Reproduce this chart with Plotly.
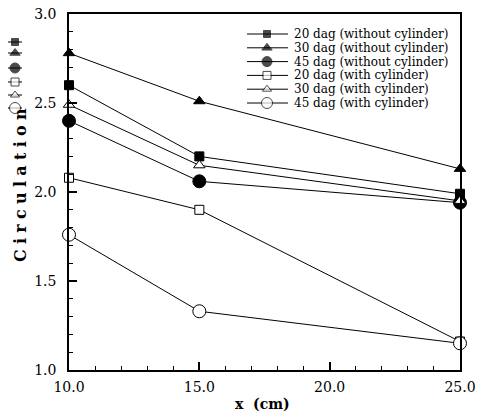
import plotly.graph_objects as go

# ---- data ----
x_cm = [10, 15, 25]
s20_without = [2.60, 2.20, 1.99]
s30_without = [2.78, 2.51, 2.13]
s45_without = [2.40, 2.06, 1.94]
s20_with = [2.08, 1.90, 1.16]
s30_with = [2.49, 2.15, 1.95]
s45_with = [1.76, 1.33, 1.15]
names = ["20 dag (without cylinder)", "30 dag (without cylinder)", "45 dag (without cylinder)",
         "20 dag (with cylinder)", "30 dag (with cylinder)", "45 dag (with cylinder)"]
series = [s20_without, s30_without, s45_without, s20_with, s30_with, s45_with]
symbols = ["square", "triangle-up", "circle", "square", "triangle-up", "circle"]
fills = ["black", "black", "black", "white", "white", "white"]
sizes = [9, 10, 13, 9, 10, 13]
legend_sizes = [7, 9, 10, 8, 8, 11]

W, H = 478, 417
L, R, T, B = 69, 460, 14, 370  # plot area in pixels
FONT = "DejaVu Serif"

fig = go.Figure()
for name, ys, sym, fc, sz in zip(names, series, symbols, fills, sizes):
    fig.add_trace(go.Scatter(
        x=x_cm, y=ys, mode="lines+markers", name=name, showlegend=False,
        line=dict(color="black", width=1),
        marker=dict(symbol=sym, size=sz, color=fc, line=dict(color="black", width=1)),
        cliponaxis=False, xaxis="x", yaxis="y"))

# ---- overlay pixel axes for legend and y-title keys ----
leg_x0, leg_x1, leg_mx, leg_tx = 247, 288, 267, 292
row0, row_gap = 34, 13.8
key_x0, key_x1, key_mx = 8, 22, 15
key_rows = [42, 53, 68, 82, 95, 108]
for i, (name, sym, fc, lsz) in enumerate(zip(names, symbols, fills, legend_sizes)):
    yy = row0 + i * row_gap
    fig.add_trace(go.Scatter(
        x=[leg_x0, leg_mx, leg_x1], y=[yy, yy, yy], mode="lines+markers", showlegend=False,
        line=dict(color="black", width=1),
        marker=dict(symbol=sym, size=[0, lsz, 0], color=fc, line=dict(color="black", width=1)),
        xaxis="x2", yaxis="y2", hoverinfo="skip", cliponaxis=False))
    fig.add_annotation(x=leg_tx, y=yy, xref="x2", yref="y2", text=name, showarrow=False,
                       xanchor="left", yanchor="middle",
                       font=dict(family=FONT, size=12, color="black"))
    ky = key_rows[i]
    fig.add_trace(go.Scatter(
        x=[key_x0, key_mx, key_x1], y=[ky, ky, ky], mode="lines+markers", showlegend=False,
        line=dict(color="black", width=1),
        marker=dict(symbol=sym, size=[0, lsz, 0], color=fc, line=dict(color="black", width=1)),
        xaxis="x2", yaxis="y2", hoverinfo="skip", cliponaxis=False))

# titles
fig.add_annotation(x=20, y=185, xref="x2", yref="y2",
                   text="\u2004".join("Circulation"),
                   textangle=-90, showarrow=False,
                   font=dict(family=FONT, size=16, color="black", weight="bold"))
fig.add_annotation(x=262, y=404, xref="x2", yref="y2", text="x  (cm)", showarrow=False,
                   font=dict(family=FONT, size=14, color="black", weight="bold"))

axis_common = dict(showgrid=False, zeroline=False, showline=True, linecolor="black",
                   linewidth=1.5, mirror=True, ticks="inside", ticklen=8, tickwidth=1.5,
                   tickcolor="black", tickformat=".1f", automargin=False,
                   tickfont=dict(family=FONT, size=14, color="black"))
fig.update_layout(
    width=W, height=H, margin=dict(l=0, r=0, t=0, b=0, pad=0),
    paper_bgcolor="white", plot_bgcolor="rgba(0,0,0,0)", showlegend=False,
    xaxis=dict(domain=[L / W, R / W], range=[10, 25], dtick=5, tick0=10,
               minor=dict(dtick=1, ticklen=4, tickwidth=1, tickcolor="black", ticks="inside"),
               ticklabelstandoff=3, anchor="y", **axis_common),
    yaxis=dict(domain=[(H - B) / H, (H - T) / H], range=[1, 3], dtick=0.5, tick0=1,
               minor=dict(dtick=0.1, ticklen=4, tickwidth=1, tickcolor="black", ticks="inside"),
               ticklabelstandoff=8, anchor="x", **axis_common),
    xaxis2=dict(domain=[0, 1], range=[0, W], visible=False, fixedrange=True, anchor="y2",
                automargin=False),
    yaxis2=dict(domain=[0, 1], range=[H, 0], visible=False, fixedrange=True, anchor="x2",
                automargin=False),
)

fig.write_html("out.html", config={"displayModeBar": False},
               post_script="document.body.style.margin='0';document.body.style.padding='0';")
